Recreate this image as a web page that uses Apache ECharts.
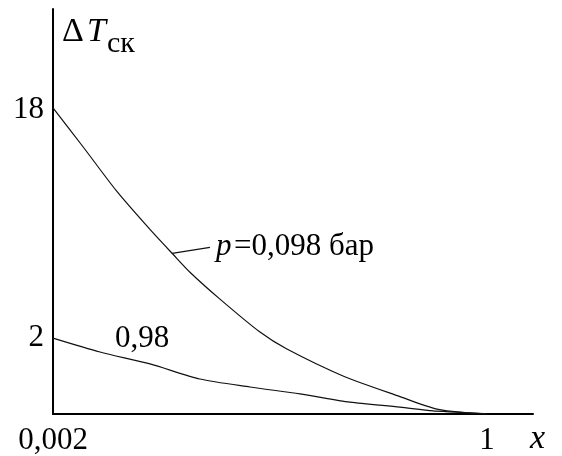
<!DOCTYPE html>
<html>
<head>
<meta charset="utf-8">
<script src="https://cdn.jsdelivr.net/npm/echarts@6/dist/echarts.min.js"></script>
<style>html,body{margin:0;padding:0;background:#fff}#c{width:562px;height:456px}</style>
</head>
<body>
<div id="c"></div>
<script>
// Data (x: fraction, y: ΔT_ск on log scale)
var xTicks = [0.002, 1];
var yTicks = [2, 18];
var upperX = [0.002, 0.071, 0.149, 0.225, 0.278, 0.317, 0.386, 0.478, 0.540, 0.669, 0.800, 0.885, 0.954, 1.0];
var upperY = [18.3, 12.6, 8.2, 5.69, 4.48, 3.77, 2.91, 2.12, 1.80, 1.39, 1.14, 1.01, 0.974, 0.965];
var lowerX = [0.002, 0.110, 0.225, 0.340, 0.455, 0.570, 0.685, 0.800, 0.876, 1.0];
var lowerY = [2.0, 1.75, 1.56, 1.35, 1.25, 1.17, 1.08, 1.03, 0.993, 0.965];
var leaderX = [0.276, 0.363];
var leaderY = [4.52, 4.79];

function pairs(xs, ys) { return xs.map(function (x, i) { return [x, ys[i]]; }); }

var serif = '"Liberation Serif", "DejaVu Serif", serif';
var chart = echarts.init(document.getElementById('c'), null, {renderer: 'canvas'});
chart.setOption({
  animation: false,
  backgroundColor: '#fff',
  grid: {left: 53, right: 29, top: 9, bottom: 41},
  xAxis: {
    type: 'value', min: 0.002, max: 1.106,
    axisLine: {lineStyle: {color: '#000', width: 2}},
    axisTick: {show: false},
    splitLine: {show: false},
    axisLabel: {
      customValues: xTicks, color: '#000', fontFamily: serif, fontSize: 31, margin: 11,
      formatter: function (v) { return String(v).replace('.', ','); }
    }
  },
  yAxis: {
    type: 'log', logBase: 10, min: 0.964, max: 47.4,
    axisLine: {lineStyle: {color: '#000', width: 2}},
    axisTick: {show: false},
    splitLine: {show: false},
    axisLabel: {
      customValues: yTicks, color: '#000', fontFamily: serif, fontSize: 31, margin: 9,
      formatter: function (v) { return String(Math.round(v)); }
    }
  },
  series: [
    {type: 'line', data: pairs(upperX, upperY), smooth: 0.25, showSymbol: false,
     lineStyle: {color: '#111', width: 1.2},
     markLine: {silent: true, symbol: ['none', 'none'], label: {show: false},
       lineStyle: {color: '#111', width: 1.2, type: 'solid'},
       data: [[{coord: [leaderX[0], leaderY[0]]}, {coord: [leaderX[1], leaderY[1]]}]]}},
    {type: 'line', data: pairs(lowerX, lowerY), smooth: 0.25, showSymbol: false,
     lineStyle: {color: '#111', width: 1.2}}
  ],
  graphic: [
    {type: 'text', left: 62, top: 15, style: {text: 'Δ', font: '34px ' + serif, fill: '#000'}},
    {type: 'text', left: 87, top: 15, style: {text: 'T', font: 'italic 34px ' + serif, fill: '#000'}},
    {type: 'text', left: 107, top: 29, style: {text: 'ск', font: '30px ' + serif, fill: '#000'}},
    {type: 'text', left: 115, top: 323, style: {text: '0,98', font: '31px ' + serif, fill: '#000'}},
    {type: 'text', left: 216, top: 231, style: {text: 'p', font: 'italic 31px ' + serif, fill: '#000'}},
    {type: 'text', left: 234, top: 231, style: {text: '=0,098 бар', font: '31px ' + serif, fill: '#000'}},
    {type: 'text', left: 530, top: 422, style: {text: 'x', font: 'italic 34px ' + serif, fill: '#000'}}
  ]
});
</script>
</body>
</html>
